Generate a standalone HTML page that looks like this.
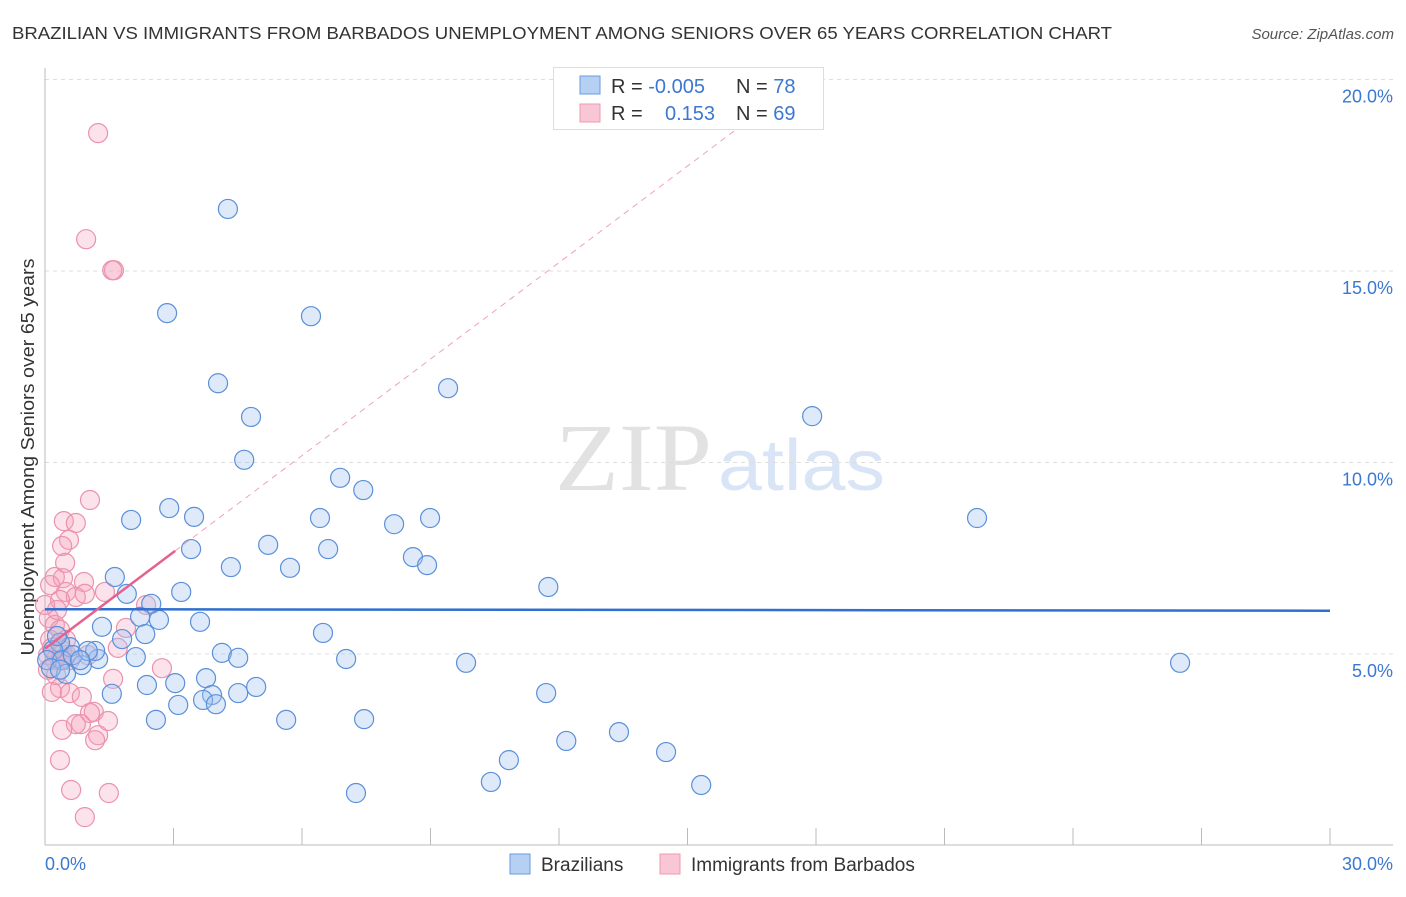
<!DOCTYPE html>
<html><head><meta charset="utf-8"><style>
body{margin:0;background:#fff;font-family:"Liberation Sans",sans-serif}
svg text{font-family:"Liberation Sans",sans-serif}
</style></head><body>
<svg width="1406" height="892" viewBox="0 0 1406 892">
<text x="12" y="39" font-size="17.5" fill="#333" textLength="1100" lengthAdjust="spacingAndGlyphs">BRAZILIAN VS IMMIGRANTS FROM BARBADOS UNEMPLOYMENT AMONG SENIORS OVER 65 YEARS CORRELATION CHART</text>
<text x="1394" y="39" font-size="15" fill="#555" text-anchor="end" font-style="italic">Source: ZipAtlas.com</text>
<g>
<text x="555" y="490" font-size="96" fill="#e2e2e2" textLength="157" lengthAdjust="spacingAndGlyphs" style="font-family:'Liberation Serif',serif">ZIP</text>
<text x="718" y="490" font-size="72" fill="#d9e5f6" textLength="167" lengthAdjust="spacingAndGlyphs">atlas</text>
</g>
<g id="grid"></g>
<line x1="45" y1="68" x2="45" y2="845" stroke="#bbb"/>
<line x1="45" y1="845" x2="1393" y2="845" stroke="#bbb"/>
<g id="xticks"></g>
<text x="45" y="870" font-size="18" fill="#3b78d0">0.0%</text>
<text x="1393" y="870" font-size="18" fill="#3b78d0" text-anchor="end">30.0%</text>
<text transform="translate(34,457) rotate(-90)" font-size="18" fill="#333" text-anchor="middle" textLength="397" lengthAdjust="spacingAndGlyphs">Unemployment Among Seniors over 65 years</text>
<g id="pts"></g>
<g id="trends"></g>
<g>
<rect x="553.5" y="67.5" width="270" height="62" fill="#fff" stroke="#ddd"/>
<rect x="580" y="76" width="20" height="18" fill="#b5d0f3" stroke="#6a9ade"/>
<rect x="580" y="104" width="20" height="18" fill="#f9c6d5" stroke="#ec9ab3"/>
<text x="611" y="93" font-size="20" fill="#333">R = <tspan fill="#3b78d0">-0.005</tspan></text>
<text x="736" y="93" font-size="20" fill="#333">N = <tspan fill="#3b78d0">78</tspan></text>
<text x="611" y="120" font-size="20" fill="#333">R = <tspan fill="#3b78d0" x="665">0.153</tspan></text>
<text x="736" y="120" font-size="20" fill="#333">N = <tspan fill="#3b78d0">69</tspan></text>
</g>
<g>
<rect x="510" y="854" width="20" height="20" fill="#b5d0f3" stroke="#6a9ade"/>
<text x="541" y="871" font-size="19" fill="#333">Brazilians</text>
<rect x="660" y="854" width="20" height="20" fill="#f9c6d5" stroke="#ec9ab3"/>
<text x="691" y="871" font-size="19" fill="#333">Immigrants from Barbados</text>
</g>
</svg>
<script>
const yTicks=[5,10,15,20];
const yTickLabels=["5.0%","10.0%","15.0%","20.0%"];
const xTickVals=[0,3,6,9,12,15,18,21,24,27,30];
const blueX=[4.27,2.85,6.21,4.04,9.41,4.81,17.91,4.65,6.89,7.43,2.90,3.48,6.42,8.99,2.01,8.15,21.76,5.21,3.41,6.61,8.59,4.34,5.72,8.92,1.63,11.75,3.18,1.91,2.48,2.22,2.66,3.62,1.33,2.34,6.49,1.80,4.13,4.51,2.12,7.03,9.83,26.50,1.24,0.86,1.17,0.58,0.35,0.19,0.05,3.04,2.38,3.76,4.93,4.51,1.56,3.90,11.70,3.69,3.99,3.11,2.59,5.63,7.45,13.40,12.17,14.50,10.83,10.41,15.32,7.26,0.28,0.40,0.65,1.00,0.49,0.14,0.82,0.35];
const blueY=[16.62,13.90,13.82,12.07,11.94,11.19,11.21,10.07,9.60,9.28,8.81,8.58,8.55,8.55,8.50,8.39,8.55,7.85,7.74,7.74,7.53,7.27,7.25,7.32,7.01,6.75,6.62,6.57,6.31,5.97,5.89,5.84,5.71,5.52,5.55,5.39,5.03,4.90,4.92,4.87,4.77,4.77,4.87,4.71,5.08,5.18,5.29,5.10,4.84,4.24,4.19,4.37,4.14,3.98,3.96,3.93,3.98,3.80,3.69,3.67,3.28,3.28,3.30,2.96,2.73,2.44,2.23,1.66,1.58,1.37,5.47,4.84,4.97,5.08,4.48,4.63,4.84,4.59];
const pinkX=[1.24,0.96,1.61,1.57,0.44,0.72,1.05,0.56,0.40,0.47,0.23,0.42,0.91,0.49,0.72,0.93,0.35,1.40,2.36,0.09,0.23,0.35,0.12,0.23,0.07,0.40,0.51,1.89,1.70,1.00,0.58,0.35,0.16,0.58,0.86,1.14,1.05,1.47,0.84,0.72,1.24,1.17,0.40,1.59,2.73,0.35,0.61,1.49,0.93,0.26,0.07,0.16,0.35,0.49,0.28,0.00,0.12];
const pinkY=[18.60,15.83,15.02,15.02,8.47,8.42,9.02,7.98,7.82,7.38,7.01,6.98,6.88,6.62,6.49,6.57,6.41,6.62,6.28,5.94,5.76,5.63,5.37,4.84,4.59,5.10,4.97,5.68,5.16,4.97,4.84,4.11,4.01,3.98,3.88,3.49,3.46,3.25,3.17,3.17,2.88,2.75,3.02,4.35,4.63,2.23,1.45,1.37,0.74,4.45,4.97,5.16,4.84,5.37,6.15,6.28,6.80];
const blueTrend=[6.17,6.13];
const pinkTrend=[5.14,0.84];
const pinkSolidEnd=3.04, pinkDashEnd=16.46;
const NS="http://www.w3.org/2000/svg";
const sx=v=>45+v*(1285/30);
const sy=v=>845.5-v*38.3;
function mk(tag,attrs,parent){const e=document.createElementNS(NS,tag);for(const k in attrs)e.setAttribute(k,attrs[k]);parent.appendChild(e);return e;}
const grid=document.getElementById('grid');
yTicks.forEach((t,i)=>{
 const l=mk('line',{x1:45,x2:1393,y1:sy(t),y2:sy(t),stroke:'#ddd','stroke-dasharray':'4,4'},grid);
 
 
 const tx=mk('text',{x:1393,y:sy(t)+23,'font-size':18,fill:'#3b78d0','text-anchor':'end'},grid);
 tx.textContent=yTickLabels[i];
 
 
});
const xt=document.getElementById('xticks');
xTickVals.forEach(v=>{
 const l=mk('line',{x1:sx(v),x2:sx(v),y1:828,y2:845,stroke:'#bbb'},xt);
 
 
});
const pts=document.getElementById('pts');
pinkX.forEach((x,i)=>{
 const c=mk('circle',{cx:sx(x),cy:sy(pinkY[i]),r:9.5,fill:'rgba(244,160,185,0.3)',stroke:'#eb92ae','stroke-width':1.2},pts);
 
 
});
blueX.forEach((x,i)=>{
 const c=mk('circle',{cx:sx(x),cy:sy(blueY[i]),r:9.5,fill:'rgba(160,196,240,0.35)',stroke:'#5b8fd9','stroke-width':1.2},pts);
 
 
});
const tr=document.getElementById('trends');
const pf=v=>pinkTrend[0]+pinkTrend[1]*v;
const bl=mk('line',{x1:sx(0),y1:sy(blueTrend[0]),x2:sx(30),y2:sy(blueTrend[1]),stroke:'#2f6fd0','stroke-width':2.5},tr);


const pd=mk('line',{x1:sx(pinkSolidEnd),y1:sy(pf(pinkSolidEnd)),x2:sx(pinkDashEnd),y2:sy(pf(pinkDashEnd)),stroke:'#f0a0bb','stroke-width':1,'stroke-dasharray':'6,5'},tr);


const ps=mk('line',{x1:sx(0),y1:sy(pf(0)),x2:sx(pinkSolidEnd),y2:sy(pf(pinkSolidEnd)),stroke:'#e4628d','stroke-width':2.5},tr);


</script>
</body></html>
